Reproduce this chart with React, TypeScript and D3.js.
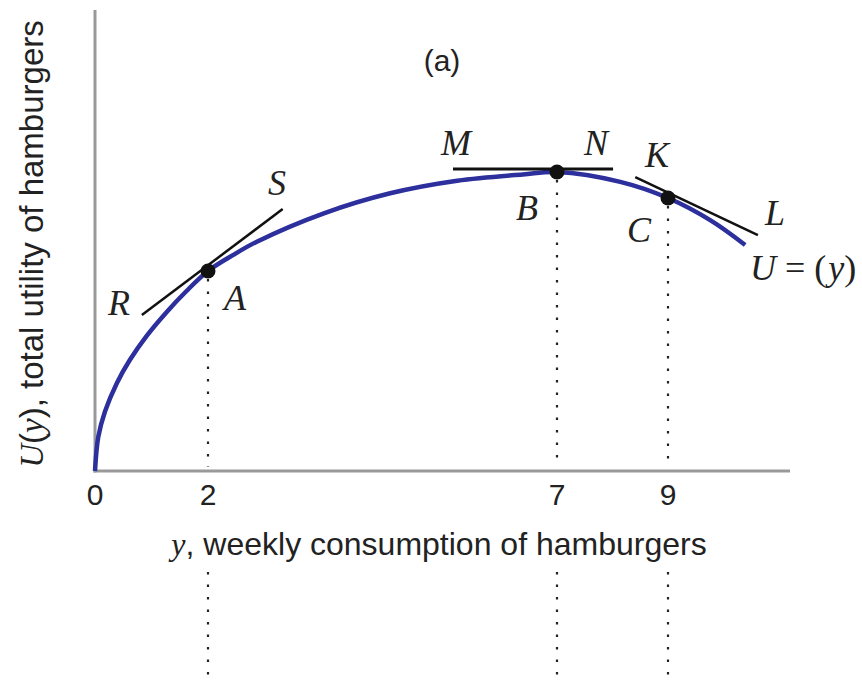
import React from "react";
import * as d3 from "d3";

// ---- data ----
const tickValues = [0, 2, 7, 9];
const curveX = [0, 0.058, 0.177, 0.384, 0.619, 0.915, 1.27, 1.62, 2, 2.35, 2.7, 3.66, 4.61, 5.57, 6.51, 7, 8.14, 9, 9.76, 10.39];
const curveU = [0, 1.14, 1.99, 2.93, 3.72, 4.52, 5.32, 6.02, 6.69, 7.21, 7.67, 8.62, 9.29, 9.71, 9.92, 10, 9.67, 9.13, 8.39, 7.56];
const pointNames = ["A", "B", "C"];
const pointX = [2, 7, 9];
const pointU = [6.69, 10, 9.13];
const tangentNames = ["RS", "MN", "KL"];
const tangentX1 = [0.83, 5.51, 8.41];
const tangentU1 = [5.22, 10.1, 9.83];
const tangentX2 = [3.07, 8.01, 10.62];
const tangentU2 = [8.76, 10.1, 7.89];

const W = 862;
const H = 682;

export default function App() {
  const x = d3.scaleLinear().domain([0, 2, 7, 9]).range([95, 208, 557, 668]);
  const y = d3.scaleLinear().domain([0, 10]).range([471, 172]);
  const line = d3
    .line<number>()
    .x((_, i) => x(curveX[i]))
    .y((d) => y(d))
    .curve(d3.curveCatmullRom.alpha(0.5));
  const path = line(curveU) || "";
  const axisY = y(0);
  const axisX = x(0);
  const serif = "'Liberation Serif', 'Times New Roman', serif";
  const sans = "'Liberation Sans', Arial, Helvetica, sans-serif";
  const labelStyle = { fontFamily: serif, fontStyle: "italic" as const, fontSize: 36, fill: "#222" };

  const letterLabels: [string, number, number][] = [
    ["R", 119, 315],
    ["S", 277, 195],
    ["A", 235, 310],
    ["M", 456, 155],
    ["N", 596, 155],
    ["B", 527, 220],
    ["K", 657, 167],
    ["C", 639, 242],
    ["L", 775, 225],
  ];

  return (
    <svg width={W} height={H} style={{ position: "absolute", left: 0, top: 0, background: "#fff" }}>
      {/* axes */}
      <line x1={axisX} y1={10} x2={axisX} y2={axisY + 1.5} stroke="#999" strokeWidth={3} />
      <line x1={axisX - 1.5} y1={axisY} x2={790} y2={axisY} stroke="#999" strokeWidth={3} />

      {/* dotted drop lines */}
      {pointX.map((px, i) => (
        <g key={"d" + i}>
          <line x1={x(px)} y1={y(pointU[i]) + 8} x2={x(px)} y2={axisY - 4} stroke="#222" strokeWidth={2.2} strokeDasharray="2.5 10" />
          <line x1={x(px)} y1={572} x2={x(px)} y2={H} stroke="#222" strokeWidth={2.2} strokeDasharray="2.5 10" />
        </g>
      ))}

      {/* curve */}
      <path d={path} fill="none" stroke="#2c2f9c" strokeWidth={4.5} />

      {/* tangents */}
      {tangentNames.map((n, i) => (
        <line
          key={n}
          x1={x(tangentX1[i])}
          y1={y(tangentU1[i])}
          x2={x(tangentX2[i])}
          y2={y(tangentU2[i])}
          stroke="#111"
          strokeWidth={n === "MN" ? 3 : 2.5}
        />
      ))}

      {/* points */}
      {pointNames.map((n, i) => (
        <circle key={n} cx={x(pointX[i])} cy={y(pointU[i])} r={7.5} fill="#111" />
      ))}

      {/* letter labels */}
      {letterLabels.map(([t, lx, ly]) => (
        <text key={t} x={lx} y={ly} textAnchor="middle" style={labelStyle}>
          {t}
        </text>
      ))}
      <text x={750} y={280} style={{ fontFamily: serif, fontSize: 36, fill: "#222" }}>
        <tspan fontStyle="italic">U</tspan>
        <tspan> = (</tspan>
        <tspan fontStyle="italic" dx={2}>y</tspan>
        <tspan>)</tspan>
      </text>

      {/* (a) */}
      <text x={442} y={71} textAnchor="middle" style={{ fontFamily: sans, fontSize: 30, fill: "#222" }}>
        (a)
      </text>

      {/* tick labels */}
      {tickValues.map((t) => (
        <text key={t} x={x(t)} y={505} textAnchor="middle" style={{ fontFamily: sans, fontSize: 30, fill: "#222" }}>
          {t}
        </text>
      ))}

      {/* axis titles */}
      <text x={439} y={555} textAnchor="middle" style={{ fontFamily: sans, fontSize: 32, fill: "#222" }}>
        <tspan fontFamily={serif} fontStyle="italic">y</tspan>
        <tspan>, weekly consumption of hamburgers</tspan>
      </text>
      <text
        transform={`translate(43, 244) rotate(-90)`}
        textAnchor="middle"
        style={{ fontFamily: sans, fontSize: 33, fill: "#222" }}
      >
        <tspan fontFamily={serif} fontStyle="italic">U</tspan>
        <tspan>(</tspan>
        <tspan fontFamily={serif} fontStyle="italic">y</tspan>
        <tspan>), total utility of hamburgers</tspan>
      </text>
    </svg>
  );
}
